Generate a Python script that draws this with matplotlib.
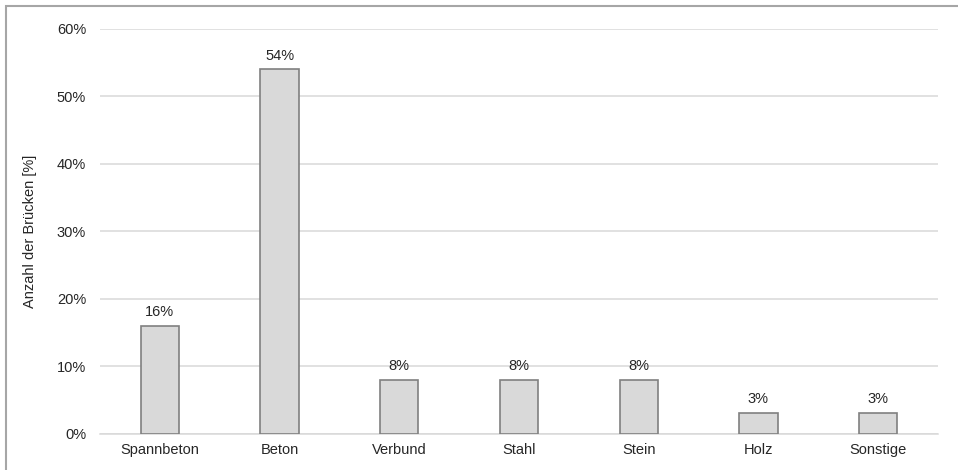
import matplotlib
matplotlib.use("Agg")
import matplotlib.pyplot as plt
from matplotlib.patches import Rectangle
from matplotlib.ticker import FuncFormatter

categories = ["Spannbeton", "Beton", "Verbund", "Stahl", "Stein", "Holz", "Sonstige"]
shares = [16, 54, 8, 8, 8, 3, 3]
yticks = [0, 10, 20, 30, 40, 50, 60]

plt.rcParams["font.family"] = ["Liberation Sans", "DejaVu Sans"]

W, H = 958, 470
fig = plt.figure(figsize=(W / 100, H / 100), dpi=100)

# outer frame (left and top edges visible)
fig.add_artist(Rectangle((6 / W, -0.05), 1.1, (H - 5.5) / H + 0.05,
                         transform=fig.transFigure, fill=False,
                         edgecolor="#a6a6a6", linewidth=1.5))

FS = 10.5
ax = fig.add_axes([100 / W, (H - 433.5) / H, 838 / W, (433.5 - 29) / H])
x = range(len(categories))
ax.bar(x, shares, width=0.32, color="#d9d9d9", edgecolor="#808080",
       linewidth=1.2, zorder=3)

for xi, v in zip(x, shares):
    ax.annotate(f"{v}%", (xi, v), xytext=(0, 5), textcoords="offset points",
                ha="center", va="bottom", fontsize=FS, color="#262626")

ax.set_xlim(-0.5, len(categories) - 0.5)
ax.set_ylim(0, 60)
ax.set_yticks(yticks)
ax.yaxis.set_major_formatter(FuncFormatter(lambda v, p: f"{v:.0f}%"))
ax.set_xticks(list(x))
ax.set_xticklabels(categories)
ax.grid(axis="y", color="#d9d9d9", linewidth=1.1, zorder=0)
for s in ["top", "right", "left"]:
    ax.spines[s].set_visible(False)
ax.spines["bottom"].set_color("#d9d9d9")
ax.spines["bottom"].set_linewidth(1.1)
ax.tick_params(axis="both", length=0, labelsize=FS, labelcolor="#262626")
ax.tick_params(axis="y", pad=10)
ax.tick_params(axis="x", pad=7)
ax.set_ylabel("Anzahl der Brücken [%]", fontsize=FS, color="#262626", labelpad=14)

fig.savefig("out.png", dpi=100)
